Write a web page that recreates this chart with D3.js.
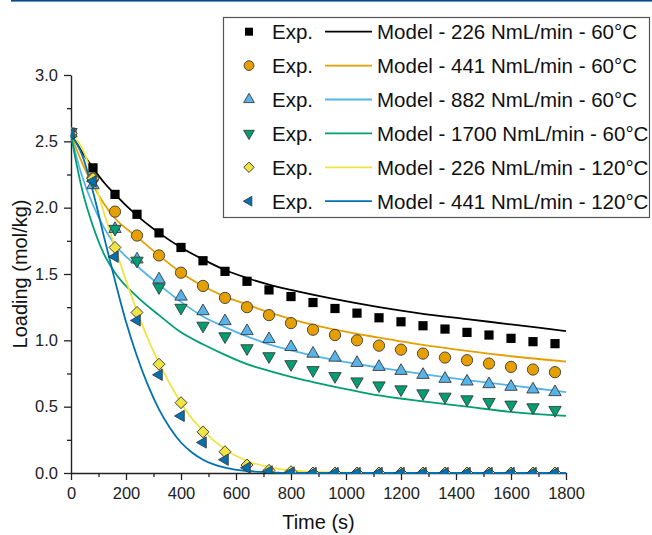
<!DOCTYPE html>
<html>
<head>
<meta charset="utf-8">
<script src="https://cdn.jsdelivr.net/npm/d3@7"></script>
<style>
  html, body { margin: 0; padding: 0; background: #fff; }
  svg { display: block; font-family: Arial, "Liberation Sans", Helvetica, sans-serif; }
</style>
</head>
<body>
<svg id="chart" width="652" height="535"></svg>
<script>
// Measurement times (s)
const expTime = [0, 80, 160, 240, 320, 400, 480, 560, 640, 720, 800, 880, 960, 1040, 1120, 1200, 1280, 1360, 1440, 1520, 1600, 1680, 1760];

// Experimental loadings (mol/kg)
const exp226_60  = [2.56, 2.30, 2.10, 1.95, 1.81, 1.70, 1.60, 1.52, 1.445, 1.38, 1.33, 1.285, 1.24, 1.205, 1.17, 1.14, 1.11, 1.085, 1.06, 1.04, 1.015, 0.99, 0.975];
const exp441_60  = [2.56, 2.22, 1.97, 1.79, 1.64, 1.51, 1.41, 1.32, 1.25, 1.19, 1.13, 1.08, 1.04, 1.00, 0.96, 0.93, 0.90, 0.87, 0.85, 0.825, 0.80, 0.78, 0.76];
const exp882_60  = [2.56, 2.17, 1.84, 1.61, 1.46, 1.33, 1.22, 1.145, 1.07, 1.01, 0.95, 0.90, 0.87, 0.83, 0.80, 0.77, 0.74, 0.71, 0.69, 0.67, 0.65, 0.63, 0.61];
const exp1700_60 = [2.57, 2.20, 1.84, 1.60, 1.40, 1.245, 1.11, 1.03, 0.94, 0.88, 0.82, 0.775, 0.73, 0.69, 0.66, 0.63, 0.60, 0.575, 0.555, 0.535, 0.515, 0.495, 0.475];
const exp226_120 = [2.56, 2.22, 1.70, 1.21, 0.82, 0.53, 0.31, 0.16, 0.06, 0.02, 0.01, 0, 0, 0, 0, 0, 0, 0, 0, 0, 0, 0, 0];
const exp441_120 = [2.56, 2.20, 1.63, 1.15, 0.74, 0.43, 0.23, 0.10, 0.04, 0.012, 0.004, 0, 0, 0, 0, 0, 0, 0, 0, 0, 0, 0, 0];

// Model curves, 60 °C runs
const modelTime60 = [0, 20, 40, 80, 120, 160, 240, 320, 400, 480, 560, 640, 720, 800, 960, 1120, 1280, 1440, 1600, 1800];
const model226_60  = [2.55, 2.49, 2.42, 2.30, 2.19, 2.10, 1.94, 1.81, 1.70, 1.61, 1.53, 1.47, 1.42, 1.38, 1.31, 1.25, 1.20, 1.16, 1.12, 1.07];
const model441_60  = [2.55, 2.44, 2.34, 2.17, 2.03, 1.92, 1.78, 1.64, 1.51, 1.41, 1.33, 1.27, 1.21, 1.16, 1.08, 1.02, 0.965, 0.92, 0.88, 0.84];
const model882_60  = [2.55, 2.38, 2.24, 2.02, 1.85, 1.72, 1.56, 1.42, 1.29, 1.18, 1.10, 1.03, 0.97, 0.925, 0.85, 0.795, 0.745, 0.70, 0.66, 0.61];
const model1700_60 = [2.55, 2.33, 2.14, 1.86, 1.65, 1.51, 1.33, 1.19, 1.06, 0.97, 0.89, 0.82, 0.77, 0.725, 0.65, 0.585, 0.54, 0.50, 0.46, 0.43];

// Model curves, 120 °C runs
const modelTime120 = [0, 40, 80, 120, 160, 200, 240, 280, 320, 360, 400, 440, 480, 560, 640, 720, 800, 960, 1200, 1800];
const model226_120 = [2.55, 2.45, 2.23, 1.96, 1.70, 1.45, 1.22, 1.01, 0.83, 0.67, 0.53, 0.41, 0.32, 0.18, 0.09, 0.045, 0.02, 0.005, 0, 0];
const model441_120 = [2.55, 2.40, 2.12, 1.78, 1.45, 1.14, 0.88, 0.66, 0.48, 0.34, 0.23, 0.155, 0.10, 0.04, 0.015, 0.005, 0, 0, 0, 0];

// Axis ticks
const xTicks = [0, 200, 400, 600, 800, 1000, 1200, 1400, 1600, 1800];
const yTicks = [0.0, 0.5, 1.0, 1.5, 2.0, 2.5, 3.0];

const series = [
  { label: "Model - 226 NmL/min - 60°C",   exp: exp226_60,  t: modelTime60,  model: model226_60,  color: "#000000", marker: "square" },
  { label: "Model - 441 NmL/min - 60°C",   exp: exp441_60,  t: modelTime60,  model: model441_60,  color: "#E69F00", marker: "circle" },
  { label: "Model - 882 NmL/min - 60°C",   exp: exp882_60,  t: modelTime60,  model: model882_60,  color: "#56B4E9", marker: "up" },
  { label: "Model - 1700 NmL/min - 60°C",  exp: exp1700_60, t: modelTime60,  model: model1700_60, color: "#009E73", marker: "down" },
  { label: "Model - 226 NmL/min - 120°C",  exp: exp226_120, t: modelTime120, model: model226_120, color: "#F0E442", marker: "diamond" },
  { label: "Model - 441 NmL/min - 120°C",  exp: exp441_120, t: modelTime120, model: model441_120, color: "#0072B2", marker: "left" }
];

const svg = d3.select("#chart");
const plotLeft = 71, plotRight = 566, plotTop = 75, plotBottom = 473;

const x = d3.scaleLinear().domain([0, 1800]).range([plotLeft, plotRight]);
const y = d3.scaleLinear().domain([0, 3]).range([plotBottom, plotTop]);

// header rule
svg.append("rect").attr("x", 11).attr("y", 0).attr("width", 641).attr("height", 1.6).attr("fill", "#0b4a86");

// clip region for markers
svg.append("defs").append("clipPath").attr("id", "plotClip")
  .append("rect").attr("x", plotLeft).attr("y", 20).attr("width", plotRight - plotLeft + 20).attr("height", plotBottom - 20);

// axes
const axisColor = "#222";
const xAxis = svg.append("g").attr("transform", `translate(0,${plotBottom})`)
  .call(d3.axisBottom(x).tickValues(xTicks).tickSize(7).tickSizeOuter(0).tickPadding(7).tickFormat(d3.format("d")));
const xMinor = svg.append("g").attr("transform", `translate(0,${plotBottom})`)
  .call(d3.axisBottom(x).tickValues(d3.range(100, 1800, 200)).tickSize(4).tickSizeOuter(0).tickFormat(""));
const yAxis = svg.append("g").attr("transform", `translate(${plotLeft},0)`)
  .call(d3.axisLeft(y).tickValues(yTicks).tickSize(7).tickSizeOuter(0).tickPadding(6).tickFormat(d3.format(".1f")));
const yMinor = svg.append("g").attr("transform", `translate(${plotLeft},0)`)
  .call(d3.axisLeft(y).tickValues(d3.range(0.25, 3, 0.5)).tickSize(4).tickSizeOuter(0).tickFormat(""));

[xAxis, xMinor, yAxis, yMinor].forEach(g => {
  g.select(".domain").attr("stroke", axisColor).attr("stroke-width", 1.4);
  g.selectAll(".tick line").attr("stroke", axisColor).attr("stroke-width", 1.3);
  g.selectAll(".tick text").attr("fill", "#222").style("font-size", "16.5px")
    .style("font-family", "Arial, 'Liberation Sans', sans-serif");
});
xMinor.select(".domain").remove();
yMinor.select(".domain").remove();

// axis titles
svg.append("text").attr("x", (plotLeft + plotRight) / 2).attr("y", 529).attr("text-anchor", "middle")
  .style("font-size", "20px").attr("fill", "#111").text("Time (s)");
svg.append("text").attr("transform", `translate(27,${(plotTop + plotBottom) / 2}) rotate(-90)`).attr("text-anchor", "middle")
  .style("font-size", "20px").attr("fill", "#111").text("Loading (mol/kg)");

// model lines
const line = d3.line().curve(d3.curveMonotoneX);
series.forEach(s => {
  svg.append("path")
    .attr("d", line(s.t.map((t, i) => [x(t), y(s.model[i])])))
    .attr("fill", "none").attr("stroke", s.color).attr("stroke-width", 1.8);
});

// marker shapes
function markerPath(kind, scale) {
  const k = scale || 1;
  switch (kind) {
    case "square":  return { d: d3.symbol(d3.symbolSquare, 85 * k)(), rot: 0 };
    case "circle":  return { d: d3.symbol(d3.symbolCircle, 100 * k)(), rot: 0 };
    case "up":      return { d: d3.symbol(d3.symbolTriangle, 66 * k)(), rot: 0 };
    case "down":    return { d: d3.symbol(d3.symbolTriangle, 66 * k)(), rot: 180 };
    case "diamond": return { d: d3.symbol(d3.symbolSquare, 72 * k)(), rot: 45 };
    case "left":    return { d: d3.symbol(d3.symbolTriangle, 55 * k)(), rot: -90 };
  }
}

const markers = svg.append("g").attr("clip-path", "url(#plotClip)");
series.forEach(s => {
  const m = markerPath(s.marker);
  markers.append("g").selectAll("path")
    .data(expTime.map((t, i) => [t, s.exp[i]]))
    .join("path")
    .attr("d", m.d)
    .attr("transform", d => `translate(${x(d[0])},${y(d[1])}) rotate(${m.rot})`)
    .attr("fill", s.color)
    .attr("stroke", s.marker === "square" ? "none" : "#3a3a3a")
    .attr("stroke-width", 0.9);
});

// legend
const legend = svg.append("g");
legend.append("rect").attr("x", 223.5).attr("y", 17.5).attr("width", 426).attr("height", 200)
  .attr("fill", "#fff").attr("stroke", "#555").attr("stroke-width", 1.2);
series.forEach((s, i) => {
  const cy = 31.7 + i * 33.9;
  const m = markerPath(s.marker, 0.75);
  legend.append("path").attr("d", m.d)
    .attr("transform", `translate(249,${cy}) rotate(${m.rot})`)
    .attr("fill", s.color)
    .attr("stroke", s.marker === "square" ? "none" : "#3a3a3a").attr("stroke-width", 0.9);
  legend.append("text").attr("x", 272).attr("y", cy + 7.5).style("font-size", "20.5px").attr("fill", "#111").text("Exp.");
  legend.append("line").attr("x1", 325).attr("x2", 372).attr("y1", cy).attr("y2", cy)
    .attr("stroke", s.color).attr("stroke-width", 1.8);
  legend.append("text").attr("x", 377).attr("y", cy + 7.5).style("font-size", "20.5px").attr("fill", "#111").text(s.label);
});
</script>
</body>
</html>
